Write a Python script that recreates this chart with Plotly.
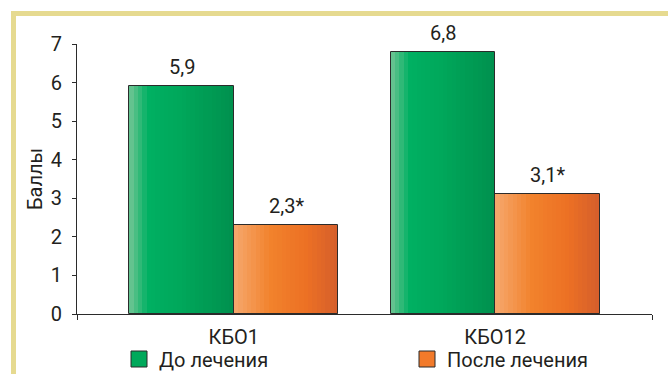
import plotly.graph_objects as go

categories = ["КБО1", "КБО12"]
before_vals = [5.9, 6.8]
after_vals = [2.3, 3.1]
before_labels = ["5,9", "6,8"]
after_labels = ["2,3*", "3,1*"]
series_names = ["До лечения", "После лечения"]
y_ticks = [0, 1, 2, 3, 4, 5, 6, 7]

FONT = "Roboto, Liberation Sans, Arial, sans-serif"
FS = 20
TXT = "#231f20"
EDGE = "#2b2b2b"

green_stops = [(0.0, (0x70, 0xC5, 0x95)), (0.18, (0x00, 0xB0, 0x62)),
               (0.5, (0x00, 0xA7, 0x5A)), (1.0, (0x00, 0x90, 0x4E))]
orange_stops = [(0.0, (0xF6, 0xA8, 0x6E)), (0.35, (0xF2, 0x82, 0x2C)),
                (0.7, (0xEC, 0x70, 0x24)), (1.0, (0xD4, 0x5E, 0x2C))]


def interp(stops, t):
    for (t0, c0), (t1, c1) in zip(stops[:-1], stops[1:]):
        if t0 <= t <= t1:
            f = (t - t0) / (t1 - t0) if t1 > t0 else 0
            c = [round(a + (b - a) * f) for a, b in zip(c0, c1)]
            return "rgb(%d,%d,%d)" % tuple(c)
    return "rgb(%d,%d,%d)" % stops[-1][1]


xpos = list(range(len(categories)))
BW = 0.4
N = 24
fig = go.Figure()

for vals, stops, start in [(before_vals, green_stops, -BW), (after_vals, orange_stops, 0.0)]:
    for k in range(N):
        t = (k + 0.5) / N
        fig.add_trace(go.Bar(
            x=xpos, y=vals, width=[BW / N * 1.02] * len(xpos),
            offset=start + k * BW / N,
            marker=dict(color=interp(stops, t), line=dict(width=0)),
            showlegend=False, hoverinfo="skip"))

for vals, labels, start in [(before_vals, before_labels, -BW), (after_vals, after_labels, 0.0)]:
    fig.add_trace(go.Bar(
        x=xpos, y=vals, width=[BW] * len(xpos), offset=start,
        marker=dict(color="rgba(0,0,0,0)", line=dict(color=EDGE, width=1)),
        showlegend=False))
    for xp, v, lab in zip(xpos, vals, labels):
        fig.add_annotation(x=xp + start + BW / 2, y=v, text=lab, showarrow=False,
                           xref="x", yref="y", yanchor="bottom", yshift=5,
                           font=dict(family=FONT, size=FS, color=TXT))


# frame (paper coords: x px 77..652, y px 314..44)
def px_x(p):
    return (p - 77) / 575.0


def px_y(p):
    return (314 - p) / 270.0


legend_names = ["legend", "legend2"]
legend_starts = [119, 407]
for name, col, lg in zip(series_names, ["#00A95B", "#F27A2A"], legend_names):
    fig.add_trace(go.Scatter(
        x=[None], y=[None], mode="markers", name=name, legend=lg,
        marker=dict(symbol="square", size=16, color=col, line=dict(color=EDGE, width=1))))

FRAME = "#E6DA90"
fig.add_shape(type="line", xref="paper", yref="paper",
              x0=px_x(11), x1=px_x(670), y0=px_y(13.5), y1=px_y(13.5),
              line=dict(color=FRAME, width=5))
fig.add_shape(type="line", xref="paper", yref="paper",
              x0=px_x(13.5), x1=px_x(13.5), y0=px_y(11), y1=px_y(376),
              line=dict(color=FRAME, width=5))

leg_common = dict(orientation="h", xanchor="left", yanchor="middle",
                  y=px_y(359), font=dict(family=FONT, size=FS, color=TXT),
                  itemclick=False, bgcolor="rgba(0,0,0,0)")

fig.update_layout(
    width=668, height=374,
    margin=dict(l=77, r=16, t=44, b=60, autoexpand=False),
    paper_bgcolor="white", plot_bgcolor="white",
    font=dict(family=FONT, size=FS, color=TXT),
    barmode="overlay", bargap=0,
    showlegend=True,
    legend=dict(x=px_x(legend_starts[0]), **leg_common),
    legend2=dict(x=px_x(legend_starts[1]), **leg_common),
    xaxis=dict(range=[-0.6, 1.6], tickvals=xpos, ticktext=categories,
               showgrid=False, zeroline=False, showline=True,
               linecolor=EDGE, linewidth=1, ticks="",
               ticklabelstandoff=5,
               tickfont=dict(family=FONT, size=FS, color=TXT),
               minor=dict(tickvals=[-0.6, 1.6], ticks="outside", ticklen=5,
                          tickcolor=EDGE, showgrid=False)),
    yaxis=dict(range=[0, 7], tickvals=y_ticks, showgrid=False, zeroline=False,
               showline=True, linecolor=EDGE, linewidth=1,
               ticks="outside", ticklen=4, tickcolor=EDGE,
               ticklabelstandoff=6,
               tickfont=dict(family=FONT, size=FS, color=TXT),
               title=dict(text="Баллы", standoff=2,
                          font=dict(family=FONT, size=FS, color=TXT))),
)

fig.write_html("out.html")
